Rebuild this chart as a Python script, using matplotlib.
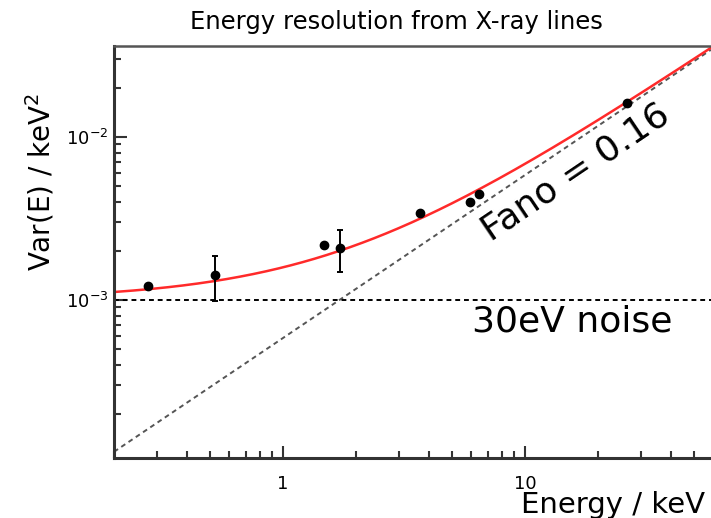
import matplotlib
matplotlib.use('Agg')
import matplotlib.pyplot as plt
import numpy as np
from matplotlib.ticker import FixedLocator, NullFormatter, LogLocator

# measured lines (keV, keV^2)
energia = [0.276, 0.524, 1.48, 1.72, 3.68, 5.89, 6.46, 26.3]
varianza = [1.21e-3, 1.42e-3, 2.17e-3, 2.07e-3, 3.40e-3, 4.01e-3, 4.47e-3, 1.61e-2]
err_abajo = [0, 0.43e-3, 0, 0.58e-3, 0, 0, 0, 0]
err_arriba = [0, 0.45e-3, 0, 0.62e-3, 0, 0, 0, 0]

fano = 0.16
w_si = 0.00365      # keV por par
ruido = 1.0e-3      # keV^2

x_ticks = [1, 10]
x_tick_labels = ['1', '10']
y_ticks = [1e-3, 1e-2]
y_tick_labels = ['$10^{-3}$', '$10^{-2}$']

xmin, xmax = 0.2, 58.6
ymin, ymax = 1.07e-4, 3.61e-2

fig = plt.figure(figsize=(7.11, 5.18), dpi=100)
ax = fig.add_axes([114/711, 1 - 458/518, 1 - 114/711, (458 - 46)/518])

e = np.logspace(np.log10(xmin), np.log10(xmax), 400)
ax.plot(e, fano*w_si*e, color='#555555', ls=(0, (2.5, 2)), lw=1.4)
ax.axhline(ruido, color='black', ls=(0, (2.5, 2)), lw=1.4)
ax.plot(e, ruido + fano*w_si*e, color='#ff2a2a', lw=1.8)

ax.errorbar(energia, varianza, yerr=[err_abajo, err_arriba], fmt='o', color='black',
            ms=6, elinewidth=1.4, capsize=2.5, capthick=1.4, zorder=5)

ax.set_xscale('log')
ax.set_yscale('log')
ax.set_xlim(xmin, xmax)
ax.set_ylim(ymin, ymax)

ax.xaxis.set_major_locator(FixedLocator(x_ticks))
ax.set_xticklabels(x_tick_labels)
ax.yaxis.set_major_locator(FixedLocator(y_ticks))
ax.set_yticklabels(y_tick_labels)
ax.xaxis.set_minor_locator(LogLocator(base=10, subs=np.arange(2, 10)))
ax.yaxis.set_minor_locator(LogLocator(base=10, subs=np.arange(2, 10)))
ax.xaxis.set_minor_formatter(NullFormatter())
ax.yaxis.set_minor_formatter(NullFormatter())

ax.tick_params(which='both', direction='in', top=False, right=False, color='#333333', width=1.5)
ax.tick_params(which='major', length=9, labelsize=13)
ax.tick_params(axis='x', which='major', pad=12)
ax.tick_params(axis='y', which='major', pad=4)
ax.tick_params(which='minor', length=5)

for s in ['left', 'bottom']:
    ax.spines[s].set_linewidth(2.2)
    ax.spines[s].set_color('#333333')
ax.spines['top'].set_linewidth(1.8)
ax.spines['top'].set_color('#555555')
ax.spines['right'].set_visible(False)

ax.text((576 - 114)/597, (458 - 172)/412, 'Fano = 0.16', transform=ax.transAxes,
        fontsize=26, rotation=34, ha='center', va='center')
ax.text((572 - 114)/597, (458 - 322)/412, '30eV noise', transform=ax.transAxes,
        fontsize=26, ha='center', va='center')

ax.text(0.99, -0.115, 'Energy / keV', transform=ax.transAxes, fontsize=21,
        ha='right', va='center')
ax.text(-0.124, (458 - 182)/412, 'Var(E) / keV$^2$', transform=ax.transAxes, fontsize=20,
        rotation=90, ha='center', va='center')

fig.text(396/711, 1 - 22/518, 'Energy resolution from X-ray lines', fontsize=17.5,
         ha='center', va='center')

fig.savefig('out.png', dpi=100)
